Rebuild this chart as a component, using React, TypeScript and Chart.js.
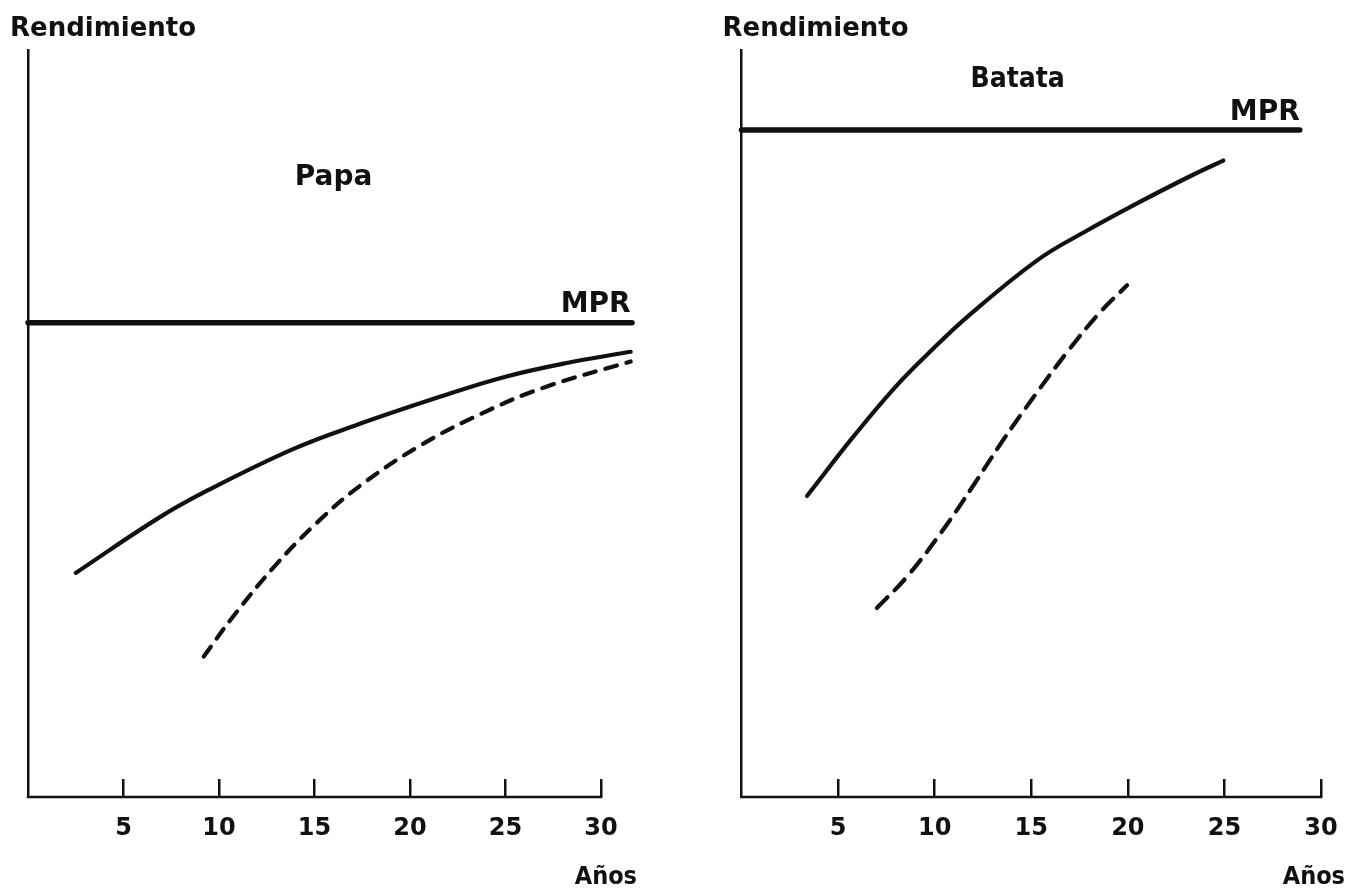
import React, { useEffect, useRef } from "react";
import { Chart, registerables } from "chart.js";

Chart.register(...registerables);

// ---------- data ----------
const xTickValues = [5, 10, 15, 20, 25, 30];
const axisEndYear = 30;

// Papa (left panel)
const papaMprLevel = 63.5;
const papaMprYears = [0, 31.62];
const papaSolidYears = [2.5, 6.8, 9.45, 13.9, 17.2, 21.6, 24.9, 28.2, 31.55];
const papaSolidYield = [30.0, 37.3, 41.1, 46.6, 49.8, 53.6, 56.2, 58.1, 59.6];
const papaDashedYears = [9.2, 10.75, 12.95, 15.2, 17.4, 20.5, 23.8, 27.1, 31.55];
const papaDashedYield = [18.8, 24.2, 31.0, 36.9, 41.7, 47.0, 51.4, 54.9, 58.3];

// Batata (right panel)
const batataMprLevel = 89.3;
const batataMprYears = [0, 28.9];
const batataSolidYears = [3.39, 5.78, 7.97, 9.76, 11.75, 15.34, 17.73, 20.5, 23.3, 24.94];
const batataSolidYield = [40.3, 48.2, 54.9, 59.6, 64.4, 71.9, 75.6, 79.5, 83.2, 85.2];
const batataDashedYears = [7.01, 8.57, 10.36, 11.95, 13.55, 15.14, 16.93, 18.53, 19.96];
const batataDashedYield = [25.3, 29.5, 35.5, 41.5, 47.8, 53.6, 59.8, 64.8, 68.5];

// ---------- drawing ----------
const INK = "#111";
const FAMILY = '"DejaVu Sans", "Liberation Sans", Arial, sans-serif';
const CONDENSED = '"DejaVu Sans Condensed", "Liberation Sans Narrow", "Liberation Sans", Arial, sans-serif';

type Area = { left: number; right: number; top: number; bottom: number };
type TextSpec = {
  text: string;
  font: string;
  align: CanvasTextAlign;
  at: (a: Area, px: (v: number) => number, py: (v: number) => number) => [number, number];
};

type PanelSpec = {
  width: number;
  padLeft: number;
  padRight: number;
  xMax: number;
  mprLevel: number;
  mprYears: number[];
  solidX: number[];
  solidY: number[];
  dashX: number[];
  dashY: number[];
  dash: number[];
  texts: TextSpec[];
};

const xy = (xs: number[], ys: number[]) => xs.map((x, i) => ({ x, y: ys[i] }));

function buildChart(canvas: HTMLCanvasElement, p: PanelSpec) {
  const common = {
    pointRadius: 0,
    borderColor: INK,
    fill: false,
    clip: false as const,
    borderCapStyle: "round" as const,
    borderJoinStyle: "round" as const,
    tension: 0.4,
  };

  const panelText = {
    id: "panelText",
    afterDraw(chart: any) {
      const { ctx, chartArea } = chart;
      const xs = chart.scales.x;
      const ys = chart.scales.y;
      ctx.save();
      // x axis line, drawn from the scale's origin to the last tick
      ctx.strokeStyle = INK;
      ctx.lineWidth = 2.5;
      ctx.lineCap = "square";
      ctx.beginPath();
      ctx.moveTo(xs.getPixelForValue(0), chartArea.bottom);
      ctx.lineTo(xs.getPixelForValue(axisEndYear), chartArea.bottom);
      ctx.stroke();
      ctx.fillStyle = INK;
      ctx.textBaseline = "alphabetic";
      for (const t of p.texts) {
        const [x, y] = t.at(
          chartArea,
          (v) => xs.getPixelForValue(v),
          (v) => ys.getPixelForValue(v)
        );
        ctx.font = t.font;
        ctx.textAlign = t.align;
        ctx.fillText(t.text, x, y);
      }
      ctx.restore();
    },
  };

  return new Chart(canvas, {
    type: "line",
    data: {
      datasets: [
        {
          ...common,
          label: "MPR",
          data: p.mprYears.map((x) => ({ x, y: p.mprLevel })),
          borderWidth: 5.5,
        },
        {
          ...common,
          label: "solid",
          data: xy(p.solidX, p.solidY),
          borderWidth: 4.2,
        },
        {
          ...common,
          label: "dashed",
          data: xy(p.dashX, p.dashY),
          borderWidth: 4.2,
          borderDash: p.dash,
        },
      ],
    },
    options: {
      responsive: false,
      animation: false,
      events: [],
      layout: { padding: { left: p.padLeft, right: p.padRight, top: 50, bottom: 0 } },
      plugins: {
        legend: { display: false },
        tooltip: { enabled: false },
        title: { display: false },
      },
      scales: {
        x: {
          type: "linear",
          min: 0,
          max: p.xMax,
          afterBuildTicks: (s: any) => {
            s.ticks = xTickValues.map((v) => ({ value: v }));
          },
          afterFit: (s: any) => {
            s.height = 96;
            s.paddingLeft = 0;
            s.paddingRight = 0;
          },
          border: { display: false },
          grid: {
            display: true,
            drawOnChartArea: false,
            drawTicks: true,
            tickLength: -18,
            color: INK,
            lineWidth: 2.5,
          },
          ticks: {
            color: INK,
            padding: 35,
            maxRotation: 0,
            autoSkip: false,
            font: { family: FAMILY, weight: "bold", size: 24 },
          },
        },
        y: {
          type: "linear",
          min: 0,
          max: 100,
          afterFit: (s: any) => {
            s.width = 0;
            s.paddingTop = 0;
            s.paddingBottom = 0;
          },
          ticks: { display: false },
          grid: { display: false, drawTicks: false },
          border: { display: true, color: INK, width: 2.5 },
        },
      },
    } as any,
    plugins: [panelText],
  });
}

const F_AXIS = `bold 26px ${FAMILY}`;
const F_MPR = `bold 28px ${FAMILY}`;
const F_ANOS = `bold 25px ${CONDENSED}`;

const papaPanel: PanelSpec = {
  width: 700,
  padLeft: 28,
  padRight: 68,
  xMax: 31.62,
  mprLevel: papaMprLevel,
  mprYears: papaMprYears,
  solidX: papaSolidYears,
  solidY: papaSolidYield,
  dashX: papaDashedYears,
  dashY: papaDashedYield,
  dash: [12, 10],
  texts: [
    { text: "Rendimiento", font: F_AXIS, align: "left", at: (a) => [a.left - 18, a.top - 14] },
    { text: "Papa", font: `bold 28px ${FAMILY}`, align: "center", at: (a, px, py) => [px(16.0), py(81.9)] },
    { text: "MPR", font: F_MPR, align: "right", at: (a, px, py) => [px(31.55), py(64.9)] },
    { text: "Años", font: F_ANOS, align: "right", at: (a) => [a.right + 5, a.bottom + 87] },
  ],
};

const batataPanel: PanelSpec = {
  width: 647,
  padLeft: 41.5,
  padRight: 26,
  xMax: 30,
  mprLevel: batataMprLevel,
  mprYears: batataMprYears,
  solidX: batataSolidYears,
  solidY: batataSolidYield,
  dashX: batataDashedYears,
  dashY: batataDashedYield,
  dash: [15, 10],
  texts: [
    { text: "Rendimiento", font: F_AXIS, align: "left", at: (a) => [a.left - 19, a.top - 14] },
    { text: "Batata", font: `bold 28px ${CONDENSED}`, align: "center", at: (a, px, py) => [px(14.3), py(95.0)] },
    { text: "MPR", font: F_MPR, align: "right", at: (a, px, py) => [px(28.9), py(90.6)] },
    { text: "Años", font: F_ANOS, align: "right", at: (a) => [a.right + 24, a.bottom + 87] },
  ],
};

function Panel({ spec, left }: { spec: PanelSpec; left: number }) {
  const ref = useRef<HTMLCanvasElement | null>(null);
  useEffect(() => {
    if (!ref.current) return;
    const chart = buildChart(ref.current, spec);
    return () => chart.destroy();
  }, [spec]);
  return (
    <canvas
      ref={ref}
      width={spec.width}
      height={893}
      style={{ position: "absolute", left, top: 0, width: spec.width, height: 893 }}
    />
  );
}

export default function App() {
  return (
    <div
      style={{
        position: "fixed",
        left: 0,
        top: 0,
        width: 1347,
        height: 893,
        background: "#fff",
        overflow: "hidden",
      }}
    >
      <Panel spec={papaPanel} left={0} />
      <Panel spec={batataPanel} left={700} />
    </div>
  );
}
